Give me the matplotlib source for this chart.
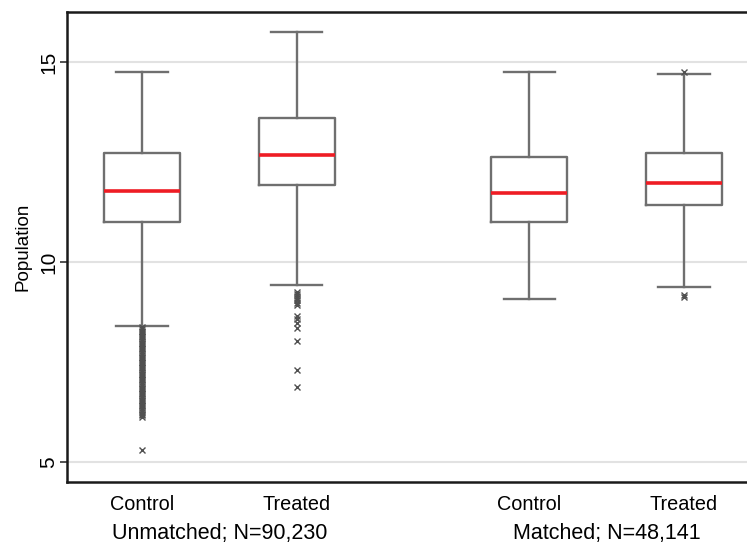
import matplotlib
matplotlib.use('Agg')
import matplotlib.pyplot as plt
import matplotlib.transforms as mtransforms

plt.rcParams['font.family'] = ['Liberation Sans', 'DejaVu Sans']

# box statistics
labels = ['Control', 'Treated', 'Control', 'Treated']
groups = ['Unmatched; N=90,230', 'Matched; N=48,141']
positions = [1, 2, 3.5, 4.5]
med = [11.77, 12.69, 11.74, 11.97]
q1 = [11.01, 11.94, 11.01, 11.42]
q3 = [12.72, 13.60, 12.64, 12.72]
whislo = [8.41, 9.44, 9.09, 9.39]
whishi = [14.77, 15.75, 14.77, 14.70]

# outliers (unmatched control has a dense column of them)
fl_unm_ctrl = [8.38, 8.34, 8.29, 8.25, 8.21, 8.16, 8.12, 8.08, 8.03, 7.99,
               7.95, 7.90, 7.86, 7.82, 7.77, 7.73, 7.69, 7.64, 7.60, 7.56,
               7.51, 7.47, 7.43, 7.38, 7.34, 7.30, 7.25, 7.21, 7.17, 7.12,
               7.08, 7.04, 6.99, 6.95, 6.91, 6.86, 6.82, 6.78, 6.73, 6.69,
               6.65, 6.60, 6.56, 6.52, 6.47, 6.43, 6.39, 6.34, 6.30, 6.26,
               6.21, 6.17, 6.13, 5.30]
fl_unm_trt = [9.25, 9.20, 9.15, 9.10, 9.05, 8.98, 8.93, 8.66, 8.58, 8.47,
              8.36, 8.03, 7.31, 6.88]
fl_m_ctrl = []
fl_m_trt = [14.77, 9.18, 9.13]
fliers = [fl_unm_ctrl, fl_unm_trt, fl_m_ctrl, fl_m_trt]

stats = []
for i in range(len(labels)):
    stats.append(dict(med=med[i], q1=q1[i], q3=q3[i], whislo=whislo[i],
                      whishi=whishi[i], fliers=fliers[i], label=labels[i]))

fig = plt.figure(figsize=(7.47, 5.46), dpi=100)
# right edge of the frame lies just outside the picture
ax = fig.add_axes([67 / 747, 1 - 482 / 546, 692 / 747, 470 / 546])

edge = '#6f6f6f'
ax.bxp(stats, positions=positions, widths=0.49, capwidths=0.33,
       patch_artist=False,
       boxprops=dict(color=edge, linewidth=1.7),
       whiskerprops=dict(color=edge, linewidth=1.7),
       capprops=dict(color=edge, linewidth=1.7),
       medianprops=dict(color='#ee1c24', linewidth=2.6),
       flierprops=dict(marker='x', markersize=4, markeredgecolor='#505050',
                       markeredgewidth=1.0, linestyle='none'))

ax.set_xlim(0.516, 4.984)
ax.set_ylim(4.5, 16.26)
ax.set_yticks([5, 10, 15])
ax.set_yticklabels(['5', '10', '15'], rotation=90, va='center', fontsize=15)
ax.yaxis.grid(True, color='#e2e2e2', linewidth=1.5)
ax.set_axisbelow(True)
ax.tick_params(axis='y', length=5, width=1.2, color='#333333', pad=1.5)
ax.set_xticks(positions)
ax.set_xticklabels(labels, fontsize=14.3)
ax.tick_params(axis='x', length=0, pad=9)
ax.set_ylabel('Population', fontsize=13.5)
ax.yaxis.set_label_coords(-0.052, 0.5)

for s in ['left', 'top', 'bottom', 'right']:
    ax.spines[s].set_linewidth(1.8)
    ax.spines[s].set_color('#1a1a1a')

trans = mtransforms.blended_transform_factory(ax.transData, fig.transFigure)
ax.text((positions[0] + positions[1]) / 2, 1 - 533 / 546, groups[0],
        transform=trans, ha='center', va='center', fontsize=15.5)
ax.text((positions[2] + positions[3]) / 2, 1 - 533 / 546, groups[1],
        transform=trans, ha='center', va='center', fontsize=15.5)

fig.savefig('out.png', dpi=100)
